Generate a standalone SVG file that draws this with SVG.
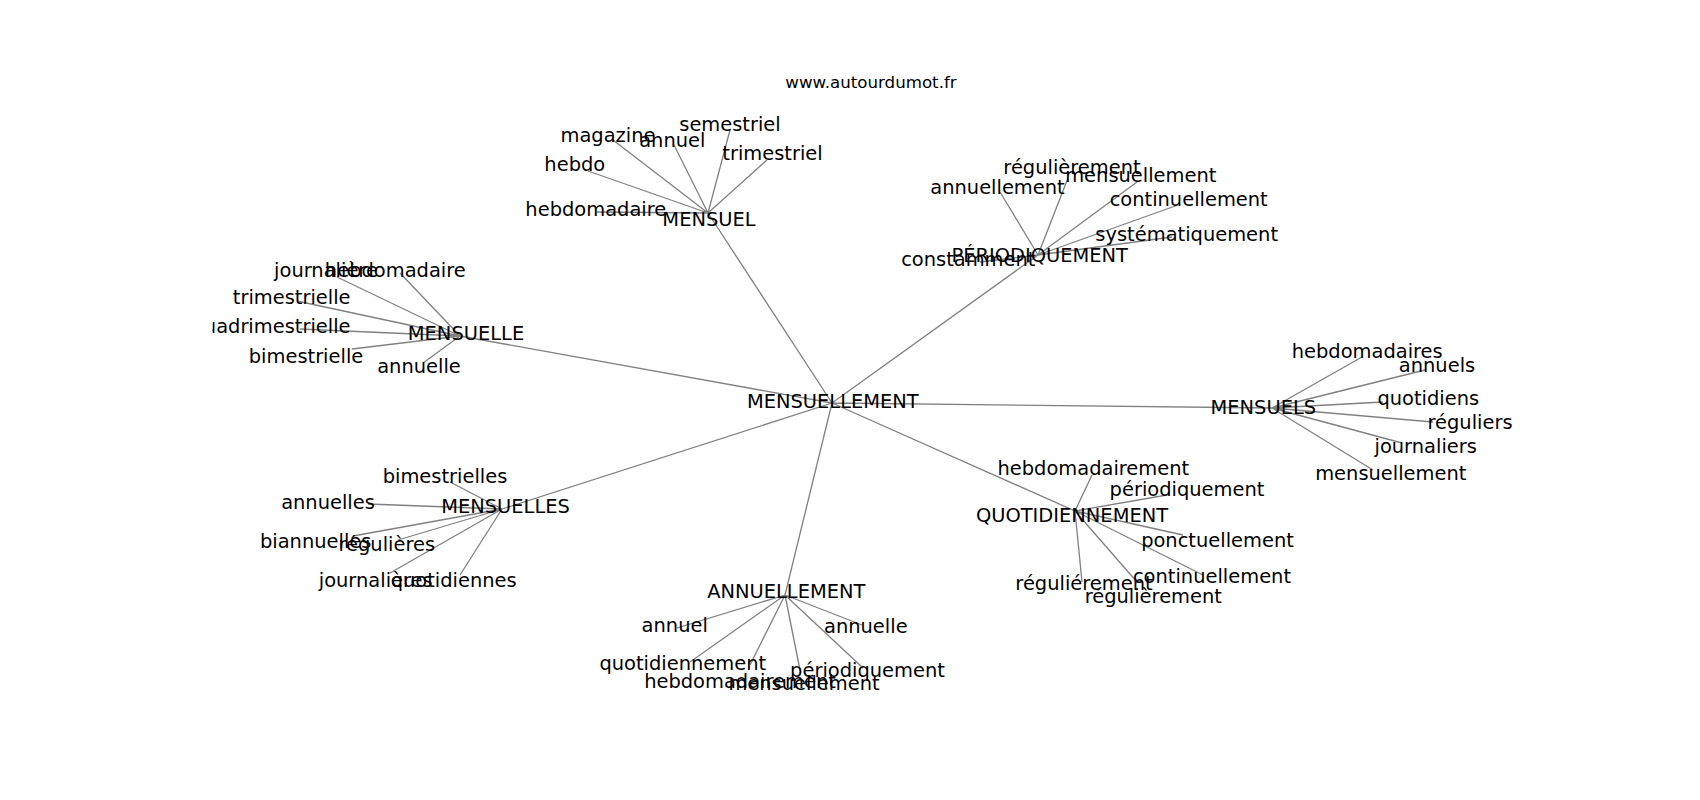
<svg xmlns="http://www.w3.org/2000/svg" width="1700" height="800" viewBox="0 0 1700 800">
<style>
.e{stroke:#808080;stroke-width:1.3;fill:none}
.t{font-family:"DejaVu Sans",sans-serif;font-size:19.44px;fill:#000;text-anchor:middle}
.ttl{font-family:"DejaVu Sans",sans-serif;font-size:16.67px;fill:#000;text-anchor:middle}
</style>
<defs><clipPath id="ax"><rect x="212.5" y="96" width="1317.5" height="616"/></clipPath></defs>
<rect width="1700" height="800" fill="#fff"/>
<text class="ttl" x="871" y="88">www.autourdumot.fr</text>
<g id="edges" clip-path="url(#ax)">
<path class="e" d="M832,403L708,213M832,403L1038,255M832,403L460,336M832,403L1272,408M832,403L502,509M832,403L785,595M832,403L1075,511"/>
<path class="e" d="M708,213L613,140M708,213L674,145M708,213L730,130M708,213L767,160M708,213L588,171M708,213L597,212"/>
<path class="e" d="M1038,255L1000,192M1038,255L1068,178M1038,255L1137,182M1038,255L1178,205M1038,255L1172,237M1038,255L980,262"/>
<path class="e" d="M460,336L400,273M460,336L337,277M460,336L297,301M460,336L300,329M460,336L352,349M460,336L423,363"/>
<path class="e" d="M1272,408L1362,357M1272,408L1425,370M1272,408L1383,402M1272,408L1433,422M1272,408L1402,443M1272,408L1373,470"/>
<path class="e" d="M502,509L450,482M502,509L368,504M502,509L353,536M502,509L398,540M502,509L390,573M502,509L460,575"/>
<path class="e" d="M1075,511L1092,475M1075,511L1167,495M1075,511L1183,535M1075,511L1203,575M1075,511L1082,582M1075,511L1137,582"/>
<path class="e" d="M785,595L677,628M785,595L690,662M785,595L750,665M785,595L800,670M785,595L863,668M785,595L862,625"/>
</g>
<g id="labels" clip-path="url(#ax)">
<g id="n-mensuellement"><text class="t" x="832.8" y="408.3">MENSUELLEMENT</text></g>
<g id="n-mensuel">
<text class="t" x="709" y="225.7">MENSUEL</text>
<text class="t" x="730" y="130.5">semestriel</text>
<text class="t" x="608" y="141.7">magazine</text>
<text class="t" x="672.3" y="146.7">annuel</text>
<text class="t" x="772.5" y="160">trimestriel</text>
<text class="t" x="574.8" y="171">hebdo</text>
<text class="t" x="595.8" y="215.7">hebdomadaire</text>
</g>
<g id="n-periodiquement">
<text class="t" x="1039.7" y="261.7">PÉRIODIQUEMENT</text>
<text class="t" x="1072" y="174.3">régulièrement</text>
<text class="t" x="1140.8" y="182.3">mensuellement</text>
<text class="t" x="997.5" y="194">annuellement</text>
<text class="t" x="1188.7" y="206">continuellement</text>
<text class="t" x="1186.7" y="241">systématiquement</text>
<text class="t" x="968.3" y="266">constamment</text>
</g>
<g id="n-mensuelle">
<text class="t" x="466" y="340">MENSUELLE</text>
<text class="t" x="326" y="276.7">journalière</text>
<text class="t" x="395.3" y="276.7">hebdomadaire</text>
<text class="t" x="291.7" y="304">trimestrielle</text>
<text class="t" x="271" y="333.3">quadrimestrielle</text>
<text class="t" x="306" y="362.7">bimestrielle</text>
<text class="t" x="419" y="372.7">annuelle</text>
</g>
<g id="n-mensuels">
<text class="t" x="1263.3" y="414">MENSUELS</text>
<text class="t" x="1367.2" y="357.7">hebdomadaires</text>
<text class="t" x="1437" y="371.7">annuels</text>
<text class="t" x="1428.3" y="405">quotidiens</text>
<text class="t" x="1470" y="429">réguliers</text>
<text class="t" x="1425.7" y="452.7">journaliers</text>
<text class="t" x="1390.8" y="480">mensuellement</text>
</g>
<g id="n-mensuelles">
<text class="t" x="505.5" y="512.7">MENSUELLES</text>
<text class="t" x="445" y="483.3">bimestrielles</text>
<text class="t" x="328" y="509.3">annuelles</text>
<text class="t" x="315.7" y="548">biannuelles</text>
<text class="t" x="386.8" y="551">régulières</text>
<text class="t" x="375.7" y="586.7">journalières</text>
<text class="t" x="453.7" y="586.7">quotidiennes</text>
</g>
<g id="n-quotidiennement">
<text class="t" x="1072" y="521.7">QUOTIDIENNEMENT</text>
<text class="t" x="1093.3" y="475">hebdomadairement</text>
<text class="t" x="1187" y="495.7">périodiquement</text>
<text class="t" x="1217.5" y="546.7">ponctuellement</text>
<text class="t" x="1212" y="583.3">continuellement</text>
<text class="t" x="1084" y="590">réguliérement</text>
<text class="t" x="1153.3" y="602.7">régulièrement</text>
</g>
<g id="n-annuellement">
<text class="t" x="786.3" y="598.3">ANNUELLEMENT</text>
<text class="t" x="674.7" y="631.7">annuel</text>
<text class="t" x="865.8" y="632.7">annuelle</text>
<text class="t" x="682.8" y="670">quotidiennement</text>
<text class="t" x="740" y="688.3">hebdomadairement</text>
<text class="t" x="804" y="690.3">mensuellement</text>
<text class="t" x="867.5" y="676.7">périodiquement</text>
</g>
</g>
</svg>
